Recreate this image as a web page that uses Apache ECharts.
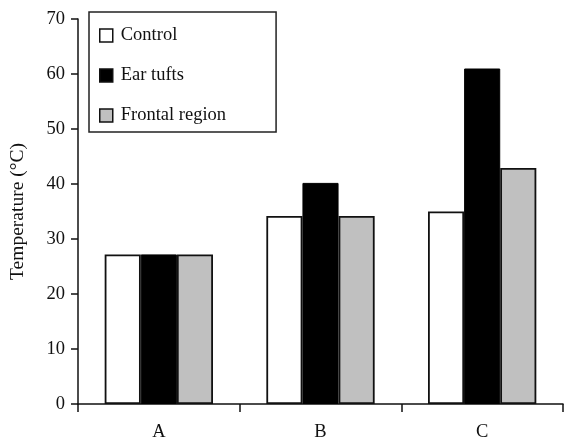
<!DOCTYPE html>
<html>
<head>
<meta charset="utf-8">
<script src="https://cdn.jsdelivr.net/npm/echarts@6/dist/echarts.min.js"></script>
<style>html,body{margin:0;padding:0;background:#fff}#c{width:565px;height:442px}</style>
</head>
<body>
<div id="c"></div>
<script>
var categories = ['A', 'B', 'C'];
var control = [27.2, 34.2, 35.0];
var earTufts = [27.2, 40.2, 61.0];
var frontal = [27.2, 34.2, 42.9];
var yTicks = [0, 10, 20, 30, 40, 50, 60, 70];

var font = 'Liberation Serif';
var chart = echarts.init(document.getElementById('c'));
var barBase = {type: 'bar', barGap: '0%', barCategoryGap: '33%'};
chart.setOption({
  animation: false,
  textStyle: {fontFamily: font},
  grid: {left: 78, right: 2, top: 19, bottom: 38},
  legend: {
    orient: 'vertical', left: 89, top: 12,
    backgroundColor: '#fff',
    borderColor: '#222', borderWidth: 1.5,
    padding: [14, 50, 7, 10],
    itemWidth: 13, itemHeight: 13, itemGap: 21,
    textStyle: {fontFamily: font, fontSize: 18.5, color: '#111', padding: [0, 0, 0, 3]},
    data: [
      {name: 'Control', icon: 'rect', itemStyle: {color: '#fff', borderColor: '#111', borderWidth: 1.5}},
      {name: 'Ear tufts', icon: 'rect', itemStyle: {color: '#000', borderColor: '#111', borderWidth: 1.5}},
      {name: 'Frontal region', icon: 'rect', itemStyle: {color: '#c0c0c0', borderColor: '#111', borderWidth: 1.5}}
    ]
  },
  xAxis: {
    type: 'category', data: categories,
    axisLine: {lineStyle: {color: '#111', width: 1.5}},
    axisTick: {show: true, length: 8, lineStyle: {color: '#111', width: 1.5}},
    axisLabel: {fontFamily: font, fontSize: 18.5, color: '#111', margin: 19}
  },
  yAxis: {
    type: 'value', min: yTicks[0], max: yTicks[yTicks.length - 1], interval: 10,
    name: 'Temperature (°C)', nameLocation: 'middle', nameGap: 50,
    nameTextStyle: {fontFamily: font, fontSize: 19.5, color: '#111'},
    axisLine: {show: true, lineStyle: {color: '#111', width: 1.5}},
    axisTick: {show: true, length: 7, lineStyle: {color: '#111', width: 1.5}},
    axisLabel: {fontFamily: font, fontSize: 18.5, color: '#111', margin: 13},
    splitLine: {show: false}
  },
  series: [
    Object.assign({}, barBase, {name: 'Control', data: control, itemStyle: {color: '#fff', borderColor: '#111', borderWidth: 1.8}}),
    Object.assign({}, barBase, {name: 'Ear tufts', data: earTufts, itemStyle: {color: '#000', borderColor: '#000', borderWidth: 1}}),
    Object.assign({}, barBase, {name: 'Frontal region', data: frontal, itemStyle: {color: '#c0c0c0', borderColor: '#111', borderWidth: 1.8}})
  ]
});
</script>
</body>
</html>
